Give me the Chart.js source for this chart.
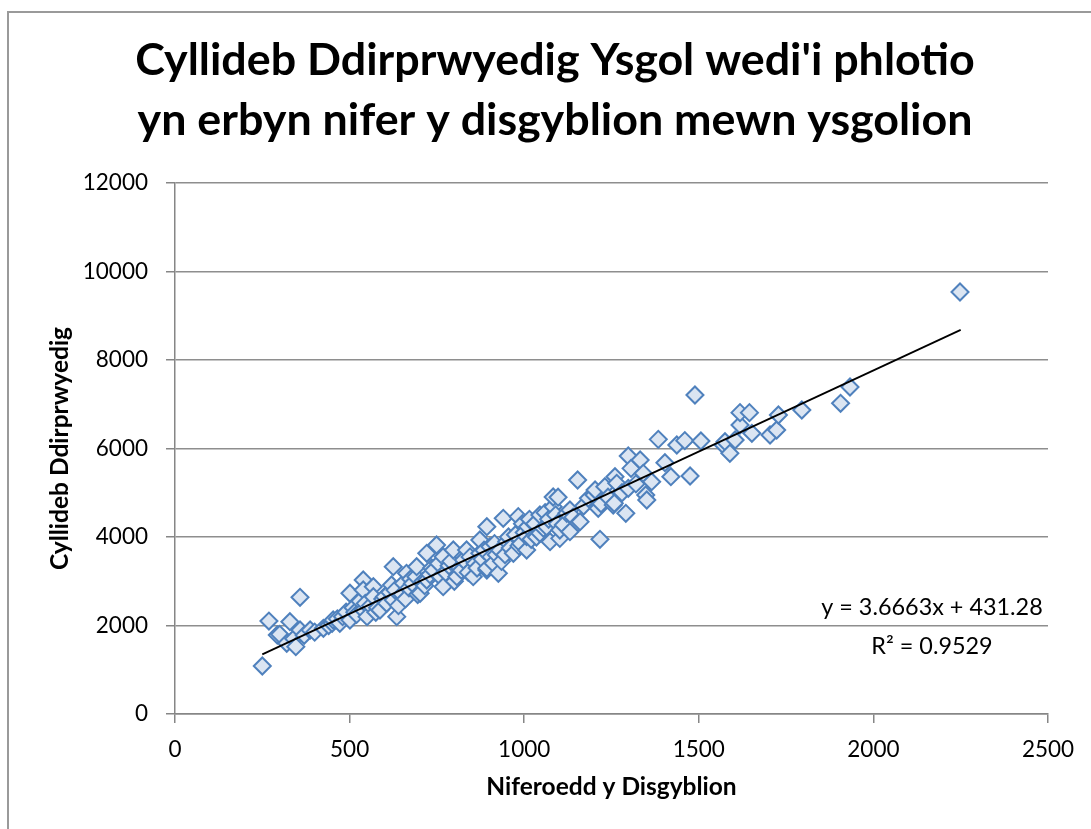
<!DOCTYPE html>
<html>
<head>
<meta charset="utf-8">
<title>Cyllideb Ddirprwyedig Ysgol</title>
<script src="https://cdn.jsdelivr.net/npm/chart.js@4.4.1/dist/chart.umd.min.js"></script>
<style>
  html, body { margin: 0; padding: 0; background: #fff; overflow: hidden; }
  #frame {
    position: absolute; left: 7px; top: 11px; width: 1200px; height: 1000px;
    border-left: 2px solid #9a9a9a; border-top: 2px solid #9a9a9a;
  }
  #chart { position: absolute; left: 0; top: 0; }
</style>
</head>
<body>
<div id="frame"></div>
<canvas id="chart" width="1091" height="829"></canvas>
<script>
const FONT = "Lato, Carlito, Calibri, sans-serif";

// pupils per school (x) and delegated budget (y)
const pupils = [
  250, 269, 293, 300, 320, 329, 340, 346, 358, 358,
  370, 387, 400, 425, 440, 450, 453, 465, 472, 480,
  490, 501, 501, 510, 515, 520, 530, 539, 539, 539,
  545, 550, 560, 568, 568, 575, 580, 587, 595, 600,
  606, 615, 620, 625, 625, 630, 635, 640, 650, 654,
  660, 663, 670, 675, 680, 690, 692, 695, 702, 710,
  715, 721, 721, 730, 735, 740, 749, 755, 760, 768,
  768, 775, 785, 790, 797, 800, 807, 815, 820, 826,
  835, 840, 845, 854, 860, 865, 873, 873, 880, 885,
  893, 893, 893, 902, 905, 911, 915, 920, 926, 930,
  935, 940, 945, 950, 955, 960, 969, 975, 983, 985,
  990, 995, 1000, 1007, 1007, 1010, 1015, 1020, 1030, 1035,
  1045, 1045, 1055, 1060, 1064, 1070, 1074, 1083, 1083, 1090,
  1095, 1097, 1102, 1102, 1112, 1122, 1131, 1131, 1140, 1153,
  1155, 1160, 1170, 1184, 1200, 1203, 1212, 1217, 1220, 1231,
  1240, 1255, 1258, 1260, 1265, 1280, 1291, 1298, 1298, 1306,
  1320, 1332, 1341, 1348, 1351, 1365, 1384, 1403, 1420, 1437,
  1460, 1475, 1489, 1506, 1570, 1575, 1589, 1604, 1618, 1618,
  1645, 1652, 1704, 1723, 1728, 1795, 1906, 1933, 2248
];
const budget = [
  1085, 2100, 1785, 1800, 1598, 2086, 1700, 1522, 1898, 2637,
  1780, 1898, 1850, 1936, 2000, 2050, 2124, 2150, 2050, 2200,
  2300, 2728, 2124, 2400, 2300, 2250, 2550, 3028, 2802, 2350,
  2500, 2200, 2450, 2877, 2651, 2300, 2400, 2350, 2600, 2650,
  2502, 2750, 2915, 3329, 2576, 2800, 2200, 2450, 2700, 2953,
  2600, 3179, 2850, 3050, 2950, 3100, 3329, 2700, 2728, 3000,
  2900, 3631, 3028, 3150, 3300, 3250, 3819, 3400, 3100, 3555,
  2877, 3200, 3350, 3450, 3706, 3000, 3103, 3300, 3250, 3480,
  3706, 3200, 3550, 3103, 3400, 3300, 3631, 3932, 3500, 3700,
  3254, 3292, 4233, 3781, 3550, 3405, 3850, 3600, 3179, 3700,
  3450, 4422, 3600, 3900, 4000, 3750, 3631, 4050, 4460, 3800,
  3850, 4300, 4100, 3706, 4007, 4233, 4400, 3950, 4300, 4000,
  4497, 4083, 4200, 4550, 4233, 4400, 3894, 4685, 4904, 4500,
  4300, 4900, 3969, 4158, 4271, 4535, 4120, 4610, 4450, 5288,
  4323, 4346, 4700, 4874, 4950, 5062, 4648, 3948, 4750, 5137,
  4900, 4723, 4761, 5363, 5213, 5000, 4535, 5831, 5100, 5551,
  5200, 5740, 5439, 4949, 4836, 5250, 6207, 5679, 5363, 6079,
  6177, 5379, 7209, 6169, 6079, 6154, 5891, 6192, 6531, 6810,
  6810, 6343, 6305, 6418, 6757, 6870, 7021, 7390, 9537
];

// linear trendline end points as drawn
const trendX = [250, 2250];
const trendY = [1348, 8680];

const xTicks = [0, 500, 1000, 1500, 2000, 2500];
const yTicks = [0, 2000, 4000, 6000, 8000, 10000, 12000];

const titleLines = ["Cyllideb Ddirprwyedig Ysgol wedi'i phlotio", "yn erbyn nifer y disgyblion mewn ysgolion"];
const xTitle = "Niferoedd y Disgyblion";
const yTitle = "Cyllideb Ddirprwyedig";
const eqnLines = ["y = 3.6663x + 431.28", "R\u00b2 = 0.9529"];

const points = pupils.map((x, i) => ({ x: x, y: budget[i] }));
const trend = trendX.map((x, i) => ({ x: x, y: trendY[i] }));

// chart title is centred on the whole chart frame, not the canvas
const frameTitle = {
    id: 'frameTitle',
    afterDraw(chart) {
        const ctx = chart.ctx;
        ctx.save();
        ctx.fillStyle = '#000';
        ctx.font = 'bold 44.8px ' + FONT;
        ctx.textAlign = 'center';
        ctx.textBaseline = 'alphabetic';
        ctx.fillText(titleLines[0], 555, 75);
        ctx.fillText(titleLines[1], 555, 135);
        ctx.restore();
    }
};

// writes the trendline equation beside the line
const equationLabel = {
    id: 'equationLabel',
    afterDatasetsDraw(chart) {
        const { ctx, chartArea } = chart;
        ctx.save();
        ctx.fillStyle = '#000';
        ctx.font = '23.4px ' + FONT;
        ctx.textAlign = 'center';
        ctx.textBaseline = 'alphabetic';
        const cx = chartArea.right - 116;
        ctx.fillText(eqnLines[0], cx, chartArea.bottom - 99);
        ctx.fillText(eqnLines[1], cx, chartArea.bottom - 60);
        ctx.restore();
    }
};

const axisGray = '#868686';

new Chart(document.getElementById('chart').getContext('2d'), {
    type: 'scatter',
    data: {
        datasets: [
            {
                type: 'line',
                data: trend,
                borderColor: '#000',
                borderWidth: 1.75,
                pointRadius: 0,
                fill: false,
                order: 0
            },
            {
                data: points,
                pointStyle: 'rectRot',
                pointRadius: 8.5,
                pointBackgroundColor: '#dbe5f2',
                pointBorderColor: '#4f81bd',
                pointBorderWidth: 2,
                order: 1
            }
        ]
    },
    options: {
        responsive: false,
        animation: false,
        layout: { padding: { left: 0, right: 43, top: 183, bottom: 0 } },
        plugins: {
            legend: { display: false },
            tooltip: { enabled: false },
            title: { display: false }
        },
        scales: {
            x: {
                type: 'linear',
                min: xTicks[0],
                max: xTicks[xTicks.length - 1],
                afterBuildTicks: s => { s.ticks = xTicks.map(v => ({ value: v })); },
                afterFit: s => { s.height = 115; },
                grid: { drawOnChartArea: false, drawTicks: true, tickLength: 9, tickColor: axisGray, lineWidth: 1.5 },
                border: { color: axisGray, width: 1.5 },
                ticks: { color: '#000', font: { family: FONT, size: 22.5 }, padding: 13, maxRotation: 0, callback: v => String(v) },
                title: {
                    display: true,
                    text: xTitle,
                    color: '#000',
                    font: { family: FONT, size: 24.5, weight: 'bold' },
                    padding: 27
                }
            },
            y: {
                type: 'linear',
                min: yTicks[0],
                max: yTicks[yTicks.length - 1],
                afterBuildTicks: s => { s.ticks = yTicks.map(v => ({ value: v })); },
                afterFit: s => { s.width = 175; },
                grid: { color: '#8e8e8e', lineWidth: 1.5, tickLength: 9, tickColor: axisGray },
                border: { color: axisGray, width: 1.5 },
                ticks: { color: '#000', font: { family: FONT, size: 22.5 }, padding: 18, callback: v => String(v) },
                title: {
                    display: true,
                    text: yTitle,
                    color: '#000',
                    font: { family: FONT, size: 24.5, weight: 'bold' },
                    padding: 45
                }
            }
        }
    },
    plugins: [equationLabel, frameTitle]
});
</script>
</body>
</html>
